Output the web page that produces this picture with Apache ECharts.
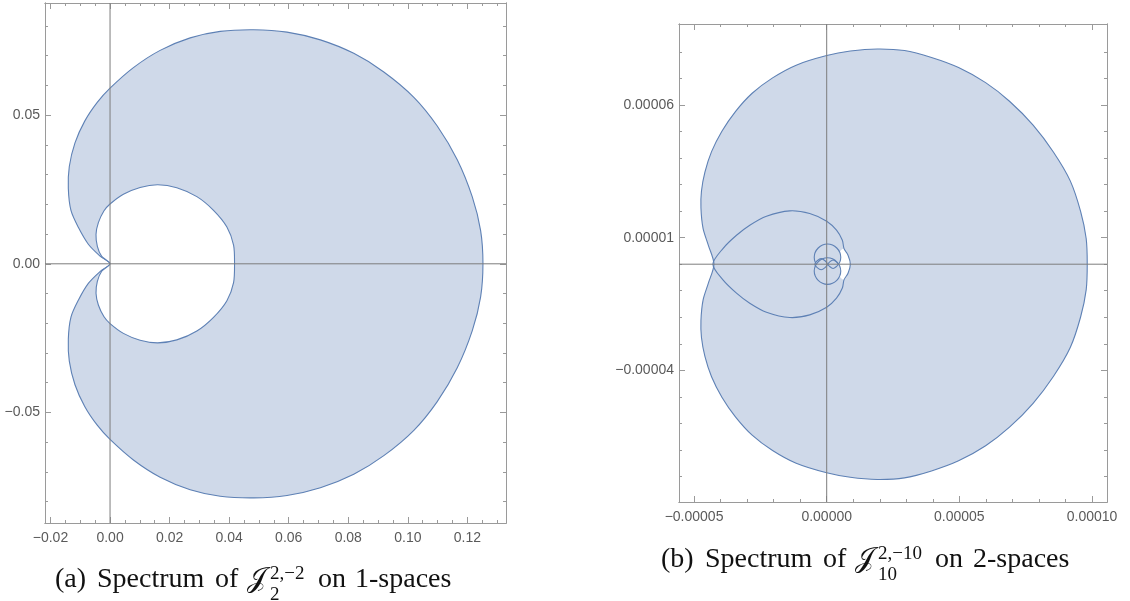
<!DOCTYPE html>
<html>
<head>
<meta charset="utf-8">
<script src="https://cdn.jsdelivr.net/npm/echarts@6/dist/echarts.min.js"></script>
<style>
html, body { margin: 0; background: #fff; }
#main { width: 1130px; height: 601px; }
</style>
</head>
<body>
<div id="main"></div>
<script>
// (a) outer loop, clockwise from the cusp at the origin
var aOuter = [
    [0, 0], [-0.00336, 0.00261], [-0.00729, 0.00659], [-0.01065, 0.01227], [-0.01312, 0.01795],
    [-0.01401, 0.02534], [-0.01368, 0.03273], [-0.01177, 0.04068], [-0.0085, 0.04800], [-0.0043, 0.05430],
    [0, 0.05909], [0.00785, 0.06600], [0.01682, 0.07180], [0.02691, 0.07600], [0.037, 0.07818],
    [0.04821, 0.07875], [0.05942, 0.07795], [0.07063, 0.07534], [0.08184, 0.0708], [0.09193, 0.06455],
    [0.10202, 0.05602], [0.10987, 0.04636], [0.11659, 0.035], [0.12164, 0.0225], [0.12444, 0.01114],
    [0.12522, 0],
    [0.12444, -0.01114], [0.12164, -0.0225], [0.11659, -0.035], [0.10987, -0.04636], [0.10202, -0.05602],
    [0.09193, -0.06455], [0.08184, -0.0708], [0.07063, -0.07534], [0.05942, -0.07795], [0.04821, -0.07875],
    [0.037, -0.07818], [0.02691, -0.07600], [0.01682, -0.07180], [0.00785, -0.06600], [0, -0.05909],
    [-0.0043, -0.05430], [-0.0085, -0.04800], [-0.01177, -0.04068], [-0.01368, -0.03273], [-0.01401, -0.02534],
    [-0.01312, -0.01795], [-0.01065, -0.01227], [-0.00729, -0.00659], [-0.00336, -0.00261]
];
// (a) inner loop
var aInner = [
    [0, 0], [-0.0028, -0.0025], [-0.00426, -0.0059], [-0.00471, -0.0099], [-0.00392, -0.01386],
    [-0.00202, -0.01784], [0, -0.02011], [0.00448, -0.02340], [0.01009, -0.0257], [0.01603, -0.0266],
    [0.02242, -0.0256], [0.02915, -0.0226], [0.03475, -0.0180], [0.03924, -0.0124], [0.04148, -0.0063],
    [0.0418, 0],
    [0.04148, 0.0063], [0.03924, 0.0124], [0.03475, 0.0180], [0.02915, 0.0226], [0.02242, 0.0256],
    [0.01603, 0.0266], [0.01009, 0.0257], [0.00448, 0.02340], [0, 0.02011], [-0.00202, 0.01784],
    [-0.00392, 0.01386], [-0.00471, 0.0099], [-0.00426, 0.0059], [-0.0028, 0.0025]
];

// (b) loops, largest first
var bLoop1 = [
    [-4.25e-5, 0], [-4.46e-5, 0.71e-5], [-4.66e-5, 1.35e-5], [-4.74e-5, 2.12e-5], [-4.72e-5, 2.76e-5],
    [-4.59e-5, 3.47e-5], [-4.34e-5, 4.24e-5], [-3.95e-5, 5.01e-5], [-3.44e-5, 5.75e-5], [-2.81e-5, 6.44e-5],
    [-2.04e-5, 7.02e-5], [-1.15e-5, 7.5e-5], [0, 7.86e-5], [0.89e-5, 8.03e-5], [1.91e-5, 8.11e-5],
    [2.93e-5, 8.05e-5], [3.95e-5, 7.79e-5], [4.97e-5, 7.41e-5], [5.99e-5, 6.84e-5], [6.89e-5, 6.14e-5],
    [7.78e-5, 5.24e-5], [8.55e-5, 4.22e-5], [9.18e-5, 3.14e-5], [9.57e-5, 1.99e-5], [9.78e-5, 0.97e-5],
    [9.82e-5, 0],
    [9.78e-5, -0.97e-5], [9.57e-5, -1.99e-5], [9.18e-5, -3.14e-5], [8.55e-5, -4.22e-5], [7.78e-5, -5.24e-5],
    [6.89e-5, -6.14e-5], [5.99e-5, -6.84e-5], [4.97e-5, -7.41e-5], [3.95e-5, -7.79e-5], [2.93e-5, -8.05e-5],
    [1.91e-5, -8.11e-5], [0.89e-5, -8.03e-5], [0, -7.86e-5], [-1.15e-5, -7.5e-5], [-2.04e-5, -7.02e-5],
    [-2.81e-5, -6.44e-5], [-3.44e-5, -5.75e-5], [-3.95e-5, -5.01e-5], [-4.34e-5, -4.24e-5], [-4.59e-5, -3.47e-5],
    [-4.72e-5, -2.76e-5], [-4.74e-5, -2.12e-5], [-4.66e-5, -1.35e-5], [-4.46e-5, -0.71e-5]
];
// heart-shaped second loop, including its bulge right of the origin
var bLoop2 = [
    [-4.29e-5, 0], [-3.91e-5, 0.59e-5], [-3.4e-5, 1.09e-5], [-2.9e-5, 1.47e-5], [-2.27e-5, 1.81e-5],
    [-1.39e-5, 2.01e-5], [-0.64e-5, 1.91e-5], [0, 1.62e-5], [0.37e-5, 1.28e-5], [0.59e-5, 0.9e-5],
    [0.652e-5, 0.59e-5], [0.804e-5, 0.34e-5], [0.892e-5, 0],
    [0.804e-5, -0.34e-5], [0.652e-5, -0.59e-5], [0.59e-5, -0.9e-5], [0.37e-5, -1.28e-5], [0, -1.62e-5],
    [-0.64e-5, -1.91e-5], [-1.39e-5, -2.01e-5], [-2.27e-5, -1.81e-5], [-2.9e-5, -1.47e-5], [-3.4e-5, -1.09e-5],
    [-3.91e-5, -0.59e-5]
];
// unfilled gap inside the bulge
var bGap = [
    [0.652e-5, 0.59e-5], [0.804e-5, 0.34e-5], [0.892e-5, 0], [0.804e-5, -0.34e-5], [0.652e-5, -0.59e-5],
    [0.45e-5, -0.4e-5], [0.4e-5, 0], [0.45e-5, 0.4e-5]
];
var bLoop3 = [
    [0.03e-5, 0.76e-5], [0.38e-5, 0.61e-5], [0.53e-5, 0.26e-5], [0.38e-5, -0.09e-5],
    [0.03e-5, -0.24e-5], [-0.32e-5, -0.09e-5], [-0.47e-5, 0.26e-5], [-0.32e-5, 0.61e-5]
];
var bLoop4 = [
    [0.03e-5, 0.24e-5], [0.38e-5, 0.09e-5], [0.53e-5, -0.26e-5], [0.38e-5, -0.61e-5],
    [0.03e-5, -0.76e-5], [-0.32e-5, -0.61e-5], [-0.47e-5, -0.26e-5], [-0.32e-5, 0.09e-5]
];
var bLoop5 = [
    [-0.21e-5, 0.21e-5], [0.03e-5, 0], [-0.21e-5, -0.21e-5], [-0.45e-5, 0]
];
var bLoop6 = [
    [0.24e-5, 0.16e-5], [0.43e-5, 0], [0.24e-5, -0.16e-5], [0.05e-5, 0]
];

// ticks
var aXMajor = [-0.02, 0, 0.02, 0.04, 0.06, 0.08, 0.10, 0.12];
var aXMinor = [-0.02, -0.015, -0.01, -0.005, 0, 0.005, 0.01, 0.015, 0.02, 0.025, 0.03, 0.035, 0.04, 0.045,
    0.05, 0.055, 0.06, 0.065, 0.07, 0.075, 0.08, 0.085, 0.09, 0.095, 0.1, 0.105, 0.11, 0.115, 0.12, 0.125, 0.13];
var aYMajor = [-0.05, 0, 0.05];
var aYMinor = [-0.08, -0.07, -0.06, -0.05, -0.04, -0.03, -0.02, -0.01, 0, 0.01, 0.02, 0.03, 0.04, 0.05, 0.06, 0.07, 0.08];
var bXMajor = [-5e-5, 0, 5e-5, 10e-5];
var bXMinor = [-5e-5, -4e-5, -3e-5, -2e-5, -1e-5, 0, 1e-5, 2e-5, 3e-5, 4e-5, 5e-5, 6e-5, 7e-5, 8e-5, 9e-5, 10e-5];
var bYMajor = [-4e-5, 1e-5, 6e-5];
var bYMinor = [-8e-5, -7e-5, -6e-5, -5e-5, -4e-5, -3e-5, -2e-5, -1e-5, 0, 1e-5, 2e-5, 3e-5, 4e-5, 5e-5, 6e-5, 7e-5, 8e-5];

var aRange = { x: [-0.02184, 0.13296], y: [-0.0872, 0.08774] };
var bRange = { x: [-5.567e-5, 10.565e-5], y: [-8.96e-5, 9.05e-5] };

var FRAME = '#9a9a9a';
var LABEL = '#5a5a5a';
var BLUE = '#5e81b5';
var FILL = '#cfd9e9';

function fmt(d) {
    return function (v) {
        var s = Math.abs(v).toFixed(d);
        return (v < -1e-12 ? '\u2212' : '') + s;
    };
}

// frame sides: one axis for the long ticks (and labels), one for the short ones
function axes(dim, grid, range, major, minor, digits) {
    var pos = dim === 'x' ? ['bottom', 'top'] : ['left', 'right'];
    var list = [];
    pos.forEach(function (p, k) {
        [major, minor].forEach(function (vals, m) {
            list.push({
                type: 'value', gridIndex: grid, position: p,
                min: range[0], max: range[1],
                axisLine: { show: true, onZero: false, lineStyle: { color: FRAME, width: 1 } },
                splitLine: { show: false },
                axisTick: { show: true, inside: true, length: m === 0 ? 6 : 3, customValues: vals,
                    lineStyle: { color: FRAME, width: 1 } },
                axisLabel: { show: k === 0 && m === 0, customValues: vals, formatter: fmt(digits),
                    color: LABEL, fontSize: 14, fontFamily: 'Liberation Sans', margin: dim === 'x' ? 8 : 5 }
            });
        });
    });
    return list;
}

function curve(name, pts, ax, fill, stroke, z) {
    return {
        type: 'custom', name: name, xAxisIndex: ax, yAxisIndex: ax, z: z, silent: true,
        data: pts,
        renderItem: function (params, api) {
            if (params.dataIndex !== 0) return null;
            return {
                type: 'polygon',
                shape: { points: pts.map(function (p) { return api.coord(p); }), smooth: 0.3 },
                style: { fill: fill, stroke: stroke, lineWidth: 1.1 }
            };
        }
    };
}

function zeroLines(ax, range) {
    var st = { color: '#7d7d7d', width: 1 };
    return [
        { type: 'line', name: 'x0', xAxisIndex: ax, yAxisIndex: ax, z: 10, silent: true, symbol: 'none',
          data: [[0, range.y[0]], [0, range.y[1]]], lineStyle: st },
        { type: 'line', name: 'y0', xAxisIndex: ax, yAxisIndex: ax, z: 10, silent: true, symbol: 'none',
          data: [[range.x[0], 0], [range.x[1], 0]], lineStyle: st }
    ];
}

function word(x, y, s, size) {
    return { type: 'text', x: x, y: y, silent: true,
        style: { text: s, font: size + 'px "Liberation Serif"', fill: '#111', verticalAlign: 'bottom' } };
}

var chart = echarts.init(document.getElementById('main'), null, { renderer: 'canvas' });
chart.setOption({
    animation: false,
    grid: [
        { left: 45, top: 3, width: 461, height: 520, show: false },
        { left: 679, top: 24, width: 428, height: 478, show: false }
    ],
    xAxis: axes('x', 0, aRange.x, aXMajor, aXMinor, 2).concat(axes('x', 1, bRange.x, bXMajor, bXMinor, 5)),
    yAxis: axes('y', 0, aRange.y, aYMajor, aYMinor, 2).concat(axes('y', 1, bRange.y, bYMajor, bYMinor, 5)),
    series: [
        curve('a outer', aOuter, 0, FILL, BLUE, 2),
        curve('a inner', aInner, 0, '#fff', BLUE, 3),
        curve('b loop 1', bLoop1, 4, FILL, BLUE, 2),
        curve('b gap', bGap, 4, '#fff', 'none', 3),
        curve('b loop 3', bLoop3, 4, FILL, BLUE, 4),
        curve('b loop 4', bLoop4, 4, FILL, BLUE, 4),
        curve('b loop 2', bLoop2, 4, 'none', BLUE, 5),
        curve('b loop 5', bLoop5, 4, 'none', BLUE, 5),
        curve('b loop 6', bLoop6, 4, 'none', BLUE, 5)
    ].concat(zeroLines(0, aRange)).concat(zeroLines(4, bRange)),
    graphic: [
        word(55, 594, '(a)', 28), word(97, 594, 'Spectrum', 28), word(215, 594, 'of', 28),
        word(247, 594, '\ud835\udca5', 28), word(270, 584, '2,\u22122', 19), word(270, 605, '2', 19),
        word(318, 594, 'on', 28), word(355, 594, '1-spaces', 28),
        word(661, 574, '(b)', 28), word(705, 574, 'Spectrum', 28), word(823, 574, 'of', 28),
        word(855, 574, '\ud835\udca5', 28), word(878, 564, '2,\u221210', 19), word(878, 585, '10', 19),
        word(935, 574, 'on', 28), word(973, 574, '2-spaces', 28)
    ]
});
</script>
</body>
</html>
